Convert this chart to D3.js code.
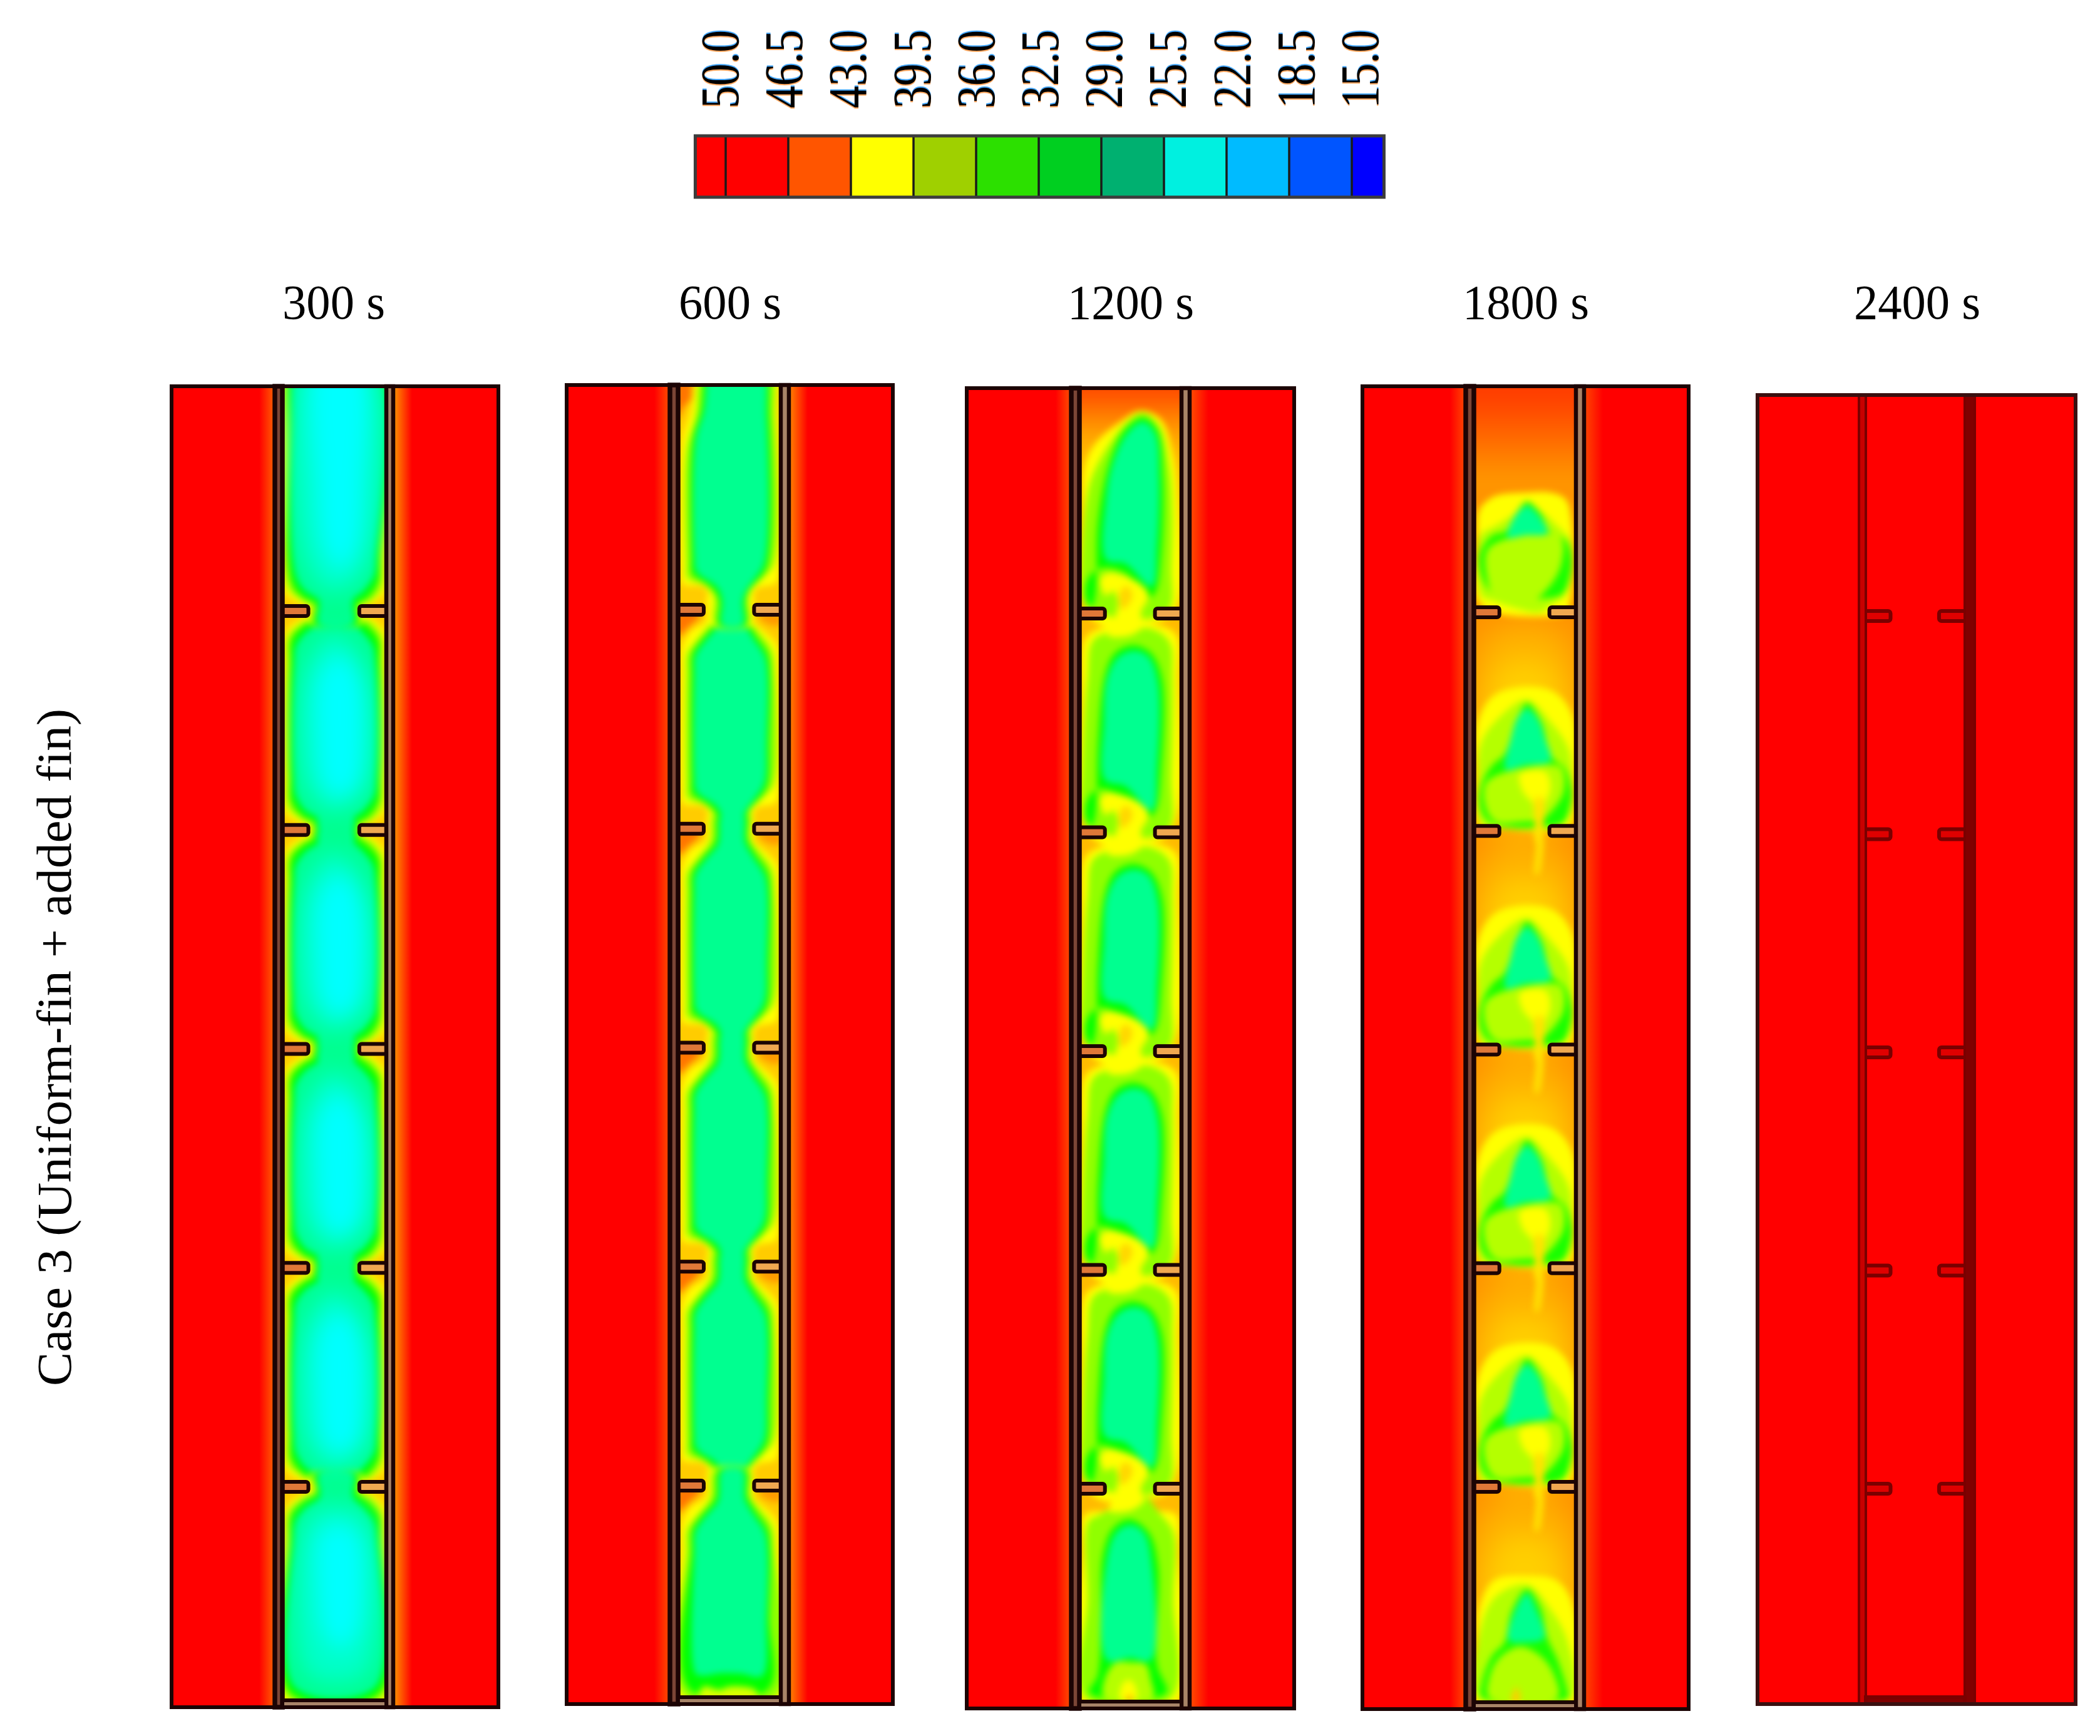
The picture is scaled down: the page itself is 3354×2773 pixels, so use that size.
<!DOCTYPE html>
<html>
<head>
<meta charset="utf-8">
<script src="https://cdn.jsdelivr.net/npm/d3@7"></script>
<style>
  html, body { margin: 0; padding: 0; background: #fff; }
  text { font-family: "Liberation Serif", serif; fill: #000; }
</style>
</head>
<body>
<svg id="chart" width="3354" height="2773"></svg>
<script>
// legend
var legendTicks = [50.0, 46.5, 43.0, 39.5, 36.0, 32.5, 29.0, 25.5, 22.0, 18.5, 15.0];
var legendEdges = [51.7].concat(legendTicks, [13.2]);
var legendColors = ["#ff0000", "#ff0000", "#ff5500", "#ffff00", "#9fd000", "#2ce000",
  "#00cf20", "#00b070", "#00f0e0", "#00bbff", "#0055ff", "#0000ff"];

var times = ["300 s", "600 s", "1200 s", "1800 s", "2400 s"];
var finStations = [1, 2, 3, 4, 5];
var caseLabel = "Case 3 (Uniform-fin + added fin)";

// temperature of the glow on the wall facing the channel [left zone, right zone]
var wallGlow = [[46.5, 45], [47, 45.5], [47, 47], [47.3, 47.3], [50, 50]];
var channelBase = [43.5, 43.5, 44, 45.2, 50];

// hot wash from the top of the channel: [temperature, v where it ends]
var topWash = [[], [], [[44.8, .24], [45.6, .16], [46.4, .1], [47.4, .04]], [[45, .46], [45.8, .36], [46.5, .25], [47.1, .15], [47.8, .07]], []];

// broad warm areas, heavily softened: [temperature, segments, outline as [u, v]]
var soft1800 = [
  [44.3, [1, 2, 3, 4, 5], [[12,.1],[88,.1],[88,.98],[12,.98]]],
  [43.4, [1, 2, 3, 4, 5], [[24,.25],[76,.25],[76,.85],[24,.85]]]
];
var softFields = [[], [], [], soft1800, []];

// melt fronts: [temperature, segments, outline as [u, v]]
// u = 0..100 across channel, v = 0..1 from one fin to the next
var field300 = [
  [42, [1, 2, 3, 4], [[27,-.06],[29,.01],[20,.03],[4,.09],[2,.25],[2,.75],[3,.92],[20,.975],[27,.99],[27,1.06],[76,1.06],[76,.99],[85,.97],[98,.92],[99,.75],[99,.25],[98,.09],[85,.03],[76,.01],[76,-.06]]],
  [39, [1, 2, 3, 4], [[29,-.06],[31,.02],[20,.05],[6,.11],[5,.25],[5,.75],[6,.9],[20,.955],[29,.98],[29,1.06],[74,1.06],[74,.98],[85,.955],[95,.9],[96,.75],[96,.25],[95,.11],[85,.05],[74,.02],[74,-.06]]],
  [36, [1, 2, 3, 4], [[31,-.06],[33,.03],[20,.07],[9,.13],[8,.25],[8,.75],[9,.87],[20,.94],[32,.97],[31,1.06],[72,1.06],[72,.97],[82,.94],[92,.87],[93,.75],[93,.25],[92,.13],[82,.07],[72,.03],[72,-.06]]],
  [33, [1, 2, 3, 4], [[35,-.06],[36,.05],[22,.1],[13,.16],[12,.25],[12,.75],[13,.84],[22,.91],[35,.95],[35,1.06],[68,1.06],[68,.95],[78,.91],[88,.84],[89,.75],[89,.25],[87,.16],[78,.1],[68,.05],[68,-.06]]],
  [42, [0], [[3,-.1],[99,-.1],[99,.75],[98,.92],[85,.97],[76,.99],[76,1.06],[27,1.06],[27,.99],[20,.975],[3,.92],[2,.75]]],
  [39, [0], [[8,-.1],[96,-.1],[96,.75],[95,.9],[85,.955],[74,.98],[74,1.06],[29,1.06],[29,.98],[20,.955],[6,.9],[6,.3]]],
  [36, [0], [[13,-.1],[93,-.1],[93,.75],[92,.87],[82,.94],[72,.97],[72,1.06],[31,1.06],[32,.97],[20,.94],[9,.87],[9,.2]]],
  [33, [0], [[17,-.1],[89,-.1],[89,.75],[88,.84],[78,.91],[68,.95],[68,1.06],[35,1.06],[35,.95],[22,.91],[13,.84],[12,.2]]],
  [42, [5], [[27,-.06],[29,.01],[20,.03],[4,.09],[2,.25],[2,.98],[98,.98],[99,.25],[98,.09],[85,.03],[76,.01],[76,-.06]]],
  [39, [5], [[29,-.06],[31,.02],[20,.05],[6,.11],[5,.25],[5,.955],[96,.955],[96,.25],[95,.11],[85,.05],[74,.02],[74,-.06]]],
  [36, [5], [[31,-.06],[33,.03],[20,.07],[9,.13],[8,.25],[8,.935],[93,.935],[93,.25],[92,.13],[82,.07],[72,.03],[72,-.06]]],
  [33, [5], [[35,-.06],[36,.05],[22,.1],[13,.16],[12,.25],[12,.91],[89,.91],[89,.25],[87,.16],[78,.1],[68,.05],[68,-.06]]],
  // cool core, softened more than the fronts
  [31, [1, 2, 3, 4], [[22,.25],[50,.1],[80,.25],[82,.8],[50,.92],[22,.8]]],
  [29, [1, 2, 3, 4], [[35,.3],[56,.2],[75,.32],[78,.6],[72,.8],[56,.85],[40,.8],[33,.6]]],
  [31, [0], [[22,-.1],[82,-.1],[82,.8],[50,.92],[22,.8]]],
  [29, [0], [[33,-.1],[76,-.1],[78,.45],[72,.72],[56,.82],[40,.72],[33,.45]]],
  [31, [5], [[22,.15],[50,.08],[82,.15],[82,.84],[50,.89],[22,.84]]],
  [29, [5], [[35,.22],[56,.16],[75,.24],[78,.45],[72,.66],[56,.74],[40,.66],[33,.45]]]
];

var field600 = [
  [46, [1, 2, 3, 4, 5], [[0,.0],[22,.02],[10,.08],[0,.12]]],
  [45, [1, 2, 3, 4, 5], [[78,.02],[100,.02],[100,.07],[85,.06]]],
  [42, [1, 2, 3, 4], [[30,-.07],[27,.05],[12,.1],[4,.17],[3,.3],[3,.82],[5,.885],[25,.9],[31,.95],[32,1.07],[72,1.07],[72,.95],[77,.905],[95,.88],[98,.8],[98,.3],[96,.16],[82,.09],[73,.05],[72,-.07]]],
  [39, [1, 2, 3, 4], [[35,-.07],[31,.06],[18,.14],[9,.2],[8,.3],[8,.8],[9,.86],[26,.89],[35,.94],[36,1.07],[68,1.07],[68,.94],[73,.895],[84,.85],[93,.8],[94,.3],[91,.18],[78,.1],[70,.05],[69,-.07]]],
  [36, [1, 2, 3, 4], [[40,-.07],[36,.06],[24,.13],[14,.2],[13,.3],[13,.76],[14,.84],[24,.875],[34,.91],[40,.96],[40,1.07],[66,1.07],[66,.96],[70,.91],[78,.87],[87,.8],[89,.6],[90,.3],[87,.2],[76,.12],[68,.05],[66,-.07]]],
  [33, [1, 2, 3, 4], [[43,-.07],[39,.07],[27,.14],[17,.21],[16,.3],[16,.76],[18,.83],[38,.9],[43,.96],[43,1.07],[63,1.07],[63,.96],[67,.91],[75,.86],[84,.79],[86,.6],[87,.3],[84,.21],[73,.13],[65,.06],[63,-.07]]],
  [46, [0], [[0,-.1],[25,-.1],[15,.05],[5,.1],[0,.15]]],
  [42, [0], [[22,-.1],[94,-.1],[97,.1],[98,.82],[95,.88],[77,.905],[72,.95],[72,1.07],[32,1.07],[31,.95],[25,.9],[5,.885],[3,.82],[4,.25],[12,.12]]],
  [39, [0], [[27,-.1],[88,-.1],[94,.15],[93,.8],[84,.85],[73,.895],[68,.94],[68,1.07],[36,1.07],[35,.94],[26,.89],[9,.86],[8,.8],[8,.3],[17,.14]]],
  [36, [0], [[32,-.1],[82,-.1],[89,.15],[87,.8],[78,.87],[70,.91],[66,.96],[66,1.07],[40,1.07],[40,.96],[34,.91],[24,.875],[14,.84],[13,.76],[14,.25],[22,.12]]],
  [33, [0], [[35,-.1],[80,-.1],[86,.15],[84,.79],[75,.86],[67,.91],[63,.96],[63,1.07],[43,1.07],[43,.96],[38,.9],[18,.83],[16,.76],[17,.25],[25,.12]]],
  [42, [5], [[30,-.07],[27,.05],[12,.1],[4,.17],[3,.3],[3,.98],[98,.98],[98,.3],[96,.16],[82,.09],[73,.05],[72,-.07]]],
  [39, [5], [[35,-.07],[31,.06],[18,.14],[9,.2],[8,.3],[6,.96],[96,.96],[94,.3],[91,.18],[78,.1],[70,.05],[69,-.07]]],
  [36, [5], [[40,-.07],[36,.06],[24,.13],[14,.2],[13,.3],[11,.93],[88,.93],[89,.6],[90,.3],[87,.2],[76,.12],[68,.05],[66,-.07]]],
  [33, [5], [[43,-.07],[39,.07],[27,.14],[17,.21],[16,.3],[17,.86],[25,.87],[40,.86],[60,.86],[82,.87],[86,.6],[87,.3],[84,.21],[73,.13],[65,.06],[63,-.07]]],
  [41, [5], [[20,.97],[25,.92],[40,.935],[50,.92],[62,.92],[75,.935],[78,.97]]]
];

var field1200 = [
  [42, [1, 2, 3, 4], [[8,.1],[25,.06],[75,.05],[95,.1],[97,.3],[97,.9],[85,1.02],[60,1.05],[20,1.05],[3,.95],[2,.4],[3,.15]]],
  [39, [1, 2, 3, 4], [[14,.12],[40,.08],[70,.07],[88,.13],[91,.3],[90,.75],[88,.98],[60,1.03],[20,1],[6,.97],[2,.88],[3,.7],[8,.3]]],
  [36, [1, 2, 3, 4], [[53,.145],[70,.18],[81,.3],[80,.72],[75,.9],[68,.93],[45,.85],[20,.8],[8,.85],[6,.93],[12,.97],[16,.9],[18,.6],[25,.28],[35,.18]]],
  [33, [1, 2, 3, 4], [[54,.17],[68,.2],[77,.32],[76,.7],[71,.9],[45,.79],[25,.76],[24,.5],[27,.3],[38,.2]]],
  [42, [0], [[5,.35],[15,.25],[40,.15],[60,.1],[80,.14],[92,.3],[97,.5],[97,.95],[85,1.02],[60,1.05],[20,1.05],[3,.95],[3,.55]]],
  [39, [0], [[12,.4],[25,.28],[45,.16],[62,.11],[78,.17],[88,.35],[91,.55],[90,.8],[88,.98],[60,1.03],[20,1],[6,.97],[2,.88],[3,.7],[7,.5]]],
  [36, [0], [[30,.32],[45,.18],[62,.13],[76,.18],[82,.4],[80,.75],[75,.9],[68,.93],[45,.82],[20,.8],[8,.85],[6,.93],[12,.97],[16,.9],[18,.6]]],
  [33, [0], [[33,.33],[47,.2],[62,.15],[74,.2],[78,.4],[76,.7],[71,.88],[45,.78],[26,.76],[26,.5]]],
  [42, [5], [[5,.12],[25,.1],[75,.1],[95,.12],[97,.3],[96,.97],[3,.97],[3,.3]]],
  [39, [5], [[9,.15],[20,.12],[45,.05],[60,.02],[80,.12],[92,.2],[92,.5],[90,.95],[6,.95],[8,.5]]],
  [36, [5], [[50,.14],[68,.2],[77,.35],[76,.8],[85,.93],[10,.93],[18,.85],[21,.6],[23,.3],[33,.18]]],
  [33, [5], [[50,.165],[63,.2],[71,.35],[70,.78],[50,.77],[27,.78],[26,.35],[36,.2]]],
  [40, [5], [[24,.95],[26,.85],[36,.79],[50,.79],[65,.8],[70,.87],[72,.95]]],
  [42, [5], [[40,.96],[42,.89],[48,.87],[54,.89],[56,.96]]],
  [44.5, [5], [[46,.97],[48,.94],[50,.94],[52,.97]]],
  // S shaped swirl past each pair of fins
  [42, [0, 1, 2, 3, 4], [[20,.85],[28,.82],[42,.83],[60,.87],[68,.92],[60,1],[64,1.05],[50,1.1],[28,1.1],[33,1.05],[36,1],[38,.95],[33,.9],[26,.92]]],
  [43.2, [0, 1, 2, 3, 4], [[40,.9],[47,.88],[52,.92],[46,.97],[41,.98]]]
];

var field1800 = [
  [42, [1, 2, 3, 4], [[4,.5],[20,.38],[52,.34],[80,.37],[97,.48],[98,.8],[94,.98],[60,1],[30,.99],[6,.98],[3,.75]]],
  [40, [1, 2, 3, 4], [[7,.6],[25,.48],[52,.4],[75,.5],[93,.63],[95,.8],[88,.97],[60,.99],[35,.99],[8,.97],[5,.8]]],
  [36.5, [1, 2, 3, 4], [[52,.415],[66,.5],[76,.66],[90,.72],[96,.82],[92,.93],[84,.97],[20,.97],[8,.92],[5,.82],[18,.7],[30,.65],[42,.5]]],
  [40, [1, 2, 3, 4], [[12,.78],[50,.71],[85,.71],[88,.82],[72,.93],[65,.95],[45,.96],[22,.96],[12,.9]]],
  [33, [1, 2, 3, 4], [[52,.44],[63,.49],[70,.58],[75,.68],[50,.7],[31,.72],[36,.58],[43,.48]]],
  [42, [0], [[5,.55],[15,.5],[25,.48],[50,.47],[75,.47],[90,.5],[96,.6],[97,.85],[90,1],[70,1.02],[20,1],[4,.95],[3,.7]]],
  [40, [0], [[4,.78],[6,.66],[20,.62],[38,.57],[52,.52],[68,.56],[82,.62],[94,.68],[95,.82],[88,.93],[78,.96],[65,1],[40,.98],[20,.95],[8,.93]]],
  [36.5, [0], [[52,.51],[65,.56],[75,.65],[90,.68],[96,.78],[90,.9],[82,.93],[20,.92],[8,.85],[5,.75],[18,.66],[32,.64],[42,.56]]],
  [40, [0], [[14,.72],[50,.66],[85,.67],[86,.78],[75,.88],[50,.97],[20,.93],[13,.85]]],
  [33, [0], [[52,.53],[63,.57],[72,.65],[50,.66],[33,.67],[41,.57]]],
  [42, [5], [[5,.55],[20,.42],[52,.4],[80,.42],[96,.52],[98,.97],[3,.97],[3,.7]]],
  [40, [5], [[4,.7],[20,.5],[52,.44],[75,.55],[92,.7],[95,.95],[5,.95]]],
  [36.5, [5], [[52,.46],[65,.54],[72,.68],[82,.78],[92,.93],[92,.95],[8,.95],[8,.88],[18,.76],[30,.7],[37,.56]]],
  [33, [5], [[52,.48],[61,.55],[69,.68],[50,.7],[34,.69],[40,.56]]],
  [40, [5], [[25,.77],[45,.72],[65,.76],[78,.84],[82,.95],[15,.95],[15,.86]]],
  [43.5, [5], [[37,.97],[40,.91],[42,.9],[45,.97]]],
  // warm tail running through the fin gap
  [42, [1, 2, 3, 4], [[45,.74],[70,.73],[75,.8],[68,.9],[60,1.05],[58,.88],[48,.82]]],
  [42.8, [1, 2, 3, 4], [[60,.85],[68,.85],[68,1],[68,1.08],[63,1.2],[60,1.2],[61,1.05]]]
];

var field2400 = [];
var fields = [field300, field600, field1200, field1800, field2400];

// layout of the five frames in page pixels
var frames = [
  { left: 274,  right: 796,  top: 617, bottom: 2727, fin1: 976, fin5: 2375, wallL: [439, 451],   wallR: [617, 628] },
  { left: 905,  right: 1426, top: 615, bottom: 2722, fin1: 974, fin5: 2373, wallL: [1070, 1083], wallR: [1247, 1260] },
  { left: 1544, right: 2067, top: 620, bottom: 2729, fin1: 980, fin5: 2378, wallL: [1711, 1724], wallR: [1887, 1900] },
  { left: 2176, right: 2697, top: 617, bottom: 2730, fin1: 978, fin5: 2375, wallL: [2341, 2354], wallR: [2517, 2530] },
  { left: 2807, right: 3315, top: 631, bottom: 2722, fin1: 984, fin5: 2378, wallL: [2969, 2980], wallR: [3138, 3154] }
];
var titleCenters = [533, 1166, 1806, 2437, 3062];
var finTip = [25, 74];

var tempColor = d3.scaleLinear()
  .domain([50, 47, 45, 43, 42, 39, 36, 33, 29])
  .range(["#ff0000", "#ff5000", "#ff9900", "#ffdd00", "#ffff00", "#90ff00", "#00ff00", "#00ff90", "#00ffff"]);

var svg = d3.select("#chart");
var defs = svg.append("defs");

function addBlur(id, amount) {
  defs.append("filter").attr("id", id)
    .attr("filterUnits", "userSpaceOnUse")
    .attr("color-interpolation-filters", "sRGB")
    .attr("x", 0).attr("y", 0).attr("width", 3354).attr("height", 2773)
    .append("feGaussianBlur").attr("stdDeviation", amount);
}
addBlur("melt", 5.5);
addBlur("core", 17);
addBlur("wash", 22);

drawLegend();
drawTitles();
frames.forEach(drawPanel);

function drawLegend() {
  var x = d3.scaleLinear().domain([50, 15]).range([1159, 2159]);
  var labelX = d3.scaleLinear().domain([50, 15]).range([1150, 2172]);
  var barTop = 217, barBottom = 315;
  var g = svg.append("g");

  g.selectAll("rect.cell")
    .data(legendColors)
    .enter().append("rect")
    .attr("class", "cell")
    .attr("x", (d, i) => x(legendEdges[i]))
    .attr("y", barTop)
    .attr("width", (d, i) => x(legendEdges[i + 1]) - x(legendEdges[i]))
    .attr("height", barBottom - barTop)
    .attr("fill", d => d);

  g.selectAll("line.divider")
    .data(legendTicks)
    .enter().append("line")
    .attr("class", "divider")
    .attr("x1", d => x(d)).attr("x2", d => x(d))
    .attr("y1", barTop).attr("y2", barBottom)
    .attr("stroke", "#1a1a1a").attr("stroke-width", 3.5);

  g.append("rect")
    .attr("x", x(legendEdges[0]))
    .attr("y", barTop)
    .attr("width", x(legendEdges[12]) - x(legendEdges[0]))
    .attr("height", barBottom - barTop)
    .attr("fill", "none")
    .attr("stroke", "#3c3c3c").attr("stroke-width", 5);

  // rotated labels with the colour fringes of the original raster
  [["#45a8ff", -2], ["#ffa860", 2], ["#000", 0]].forEach(function (layer) {
    g.selectAll("text.t" + layer[1])
      .data(legendTicks)
      .enter().append("text")
      .attr("class", "t" + layer[1])
      .attr("transform", d => "translate(" + (labelX(d) + 29) + "," + (173 + layer[1]) + ") rotate(-90)")
      .attr("font-size", 86)
      .attr("textLength", 125)
      .attr("lengthAdjust", "spacingAndGlyphs")
      .style("fill", layer[0])
      .text(d => d.toFixed(1));
  });
}

function drawTitles() {
  svg.selectAll("text.time")
    .data(times)
    .enter().append("text")
    .attr("class", "time")
    .attr("x", (d, i) => titleCenters[i])
    .attr("y", 509)
    .attr("text-anchor", "middle")
    .attr("font-size", 79)
    .text(d => d)
    .each(function () {
      d3.select(this)
        .attr("textLength", this.getComputedTextLength() * 0.97)
        .attr("lengthAdjust", "spacingAndGlyphs");
    });

  svg.append("text")
    .attr("transform", "translate(113,2214) rotate(-90)")
    .attr("font-size", 78)
    .attr("textLength", 1082)
    .attr("lengthAdjust", "spacingAndGlyphs")
    .text(caseLabel);
}

function drawPanel(f, i) {
  var done = i == 4;
  var edge = done ? "#7a0000" : "#1c0404";
  var g = svg.append("g");

  var x = d3.scaleLinear().domain([0, 100]).range([f.wallL[1], f.wallR[0]]);
  var y = d3.scaleLinear().domain([0, 1, 5, 6]).range([f.top, f.fin1, f.fin5, f.bottom]);
  var innerBottom = f.bottom - 11;

  g.append("rect")
    .attr("x", f.left).attr("y", f.top)
    .attr("width", f.right - f.left).attr("height", f.bottom - f.top)
    .attr("fill", "#ff0000");

  // warm-up next to the walls on the outer zones
  var glowL = defs.append("linearGradient").attr("id", "glowL" + i)
    .attr("gradientUnits", "userSpaceOnUse")
    .attr("x1", f.wallL[0] - 25).attr("x2", f.wallL[0]).attr("y1", 0).attr("y2", 0);
  glowL.append("stop").attr("offset", 0).attr("stop-color", "#ff0000");
  glowL.append("stop").attr("offset", 1).attr("stop-color", tempColor(wallGlow[i][0]));
  var glowR = defs.append("linearGradient").attr("id", "glowR" + i)
    .attr("gradientUnits", "userSpaceOnUse")
    .attr("x1", f.wallR[1]).attr("x2", f.wallR[1] + 30).attr("y1", 0).attr("y2", 0);
  glowR.append("stop").attr("offset", 0).attr("stop-color", tempColor(wallGlow[i][1]));
  glowR.append("stop").attr("offset", 1).attr("stop-color", "#ff0000");

  g.append("rect")
    .attr("x", f.wallL[0] - 25).attr("y", f.top)
    .attr("width", 25).attr("height", f.bottom - f.top)
    .attr("fill", "url(#glowL" + i + ")");
  g.append("rect")
    .attr("x", f.wallR[1]).attr("y", f.top)
    .attr("width", 30).attr("height", f.bottom - f.top)
    .attr("fill", "url(#glowR" + i + ")");

  // channel field, clipped to the channel and softened by a blur
  defs.append("clipPath").attr("id", "channel" + i)
    .append("rect")
    .attr("x", f.wallL[1]).attr("y", f.top)
    .attr("width", f.wallR[0] - f.wallL[1]).attr("height", innerBottom - f.top);

  var clipped = g.append("g").attr("clip-path", "url(#channel" + i + ")");

  var wash = clipped.append("g").attr("filter", done ? null : "url(#wash)");
  wash.append("rect")
    .attr("x", f.wallL[1] - 80).attr("y", f.top - 80)
    .attr("width", f.wallR[0] - f.wallL[1] + 160).attr("height", innerBottom - f.top + 160)
    .attr("fill", tempColor(channelBase[i]));
  topWash[i].forEach(function (d) {
    wash.append("rect")
      .attr("x", f.wallL[1] - 80).attr("y", f.top - 80)
      .attr("width", f.wallR[0] - f.wallL[1] + 160).attr("height", y(d[1]) - f.top + 80)
      .attr("fill", tempColor(d[0]));
  });

  function drawShape(parent, shape) {
    shape[1].forEach(function (seg) {
      var line = d3.line()
        .x(d => x(d[0]))
        .y(d => y(seg + d[1]))
        .curve(d3.curveCatmullRomClosed.alpha(0.5));
      parent.append("path")
        .attr("d", line(shape[2]))
        .attr("fill", tempColor(shape[0]));
    });
  }

  softFields[i].forEach(function (shape) { drawShape(wash, shape); });

  var field = clipped.append("g").attr("filter", done ? null : "url(#melt)");
  var core = clipped.append("g").attr("filter", done ? null : "url(#core)");
  fields[i].forEach(function (shape) {
    drawShape(shape[0] <= 31 ? core : field, shape);
  });

  // fins
  [[0, finTip[0]], [finTip[1], 100]].forEach(function (span, side) {
    g.selectAll("rect.fin" + side)
      .data(finStations)
      .enter().append("rect")
      .attr("class", "fin" + side)
      .attr("x", x(span[0]) - (side == 0 ? 4 : 0))
      .attr("y", d => y(d) - 8)
      .attr("width", x(span[1]) - x(span[0]) + 4)
      .attr("height", 16)
      .attr("rx", 4)
      .attr("fill", done ? "#e00000" : (side == 0 ? "#e07838" : "#f0a850"))
      .attr("stroke", edge).attr("stroke-width", 6);
  });

  // walls
  var wallFillL = done ? "#c80000" : "#7c4636";
  var wallFillR = done ? "#800000" : "#a88468";
  [[f.wallL, wallFillL, 7.5], [f.wallR, wallFillR, 6.5]].forEach(function (w) {
    g.append("rect")
      .attr("x", w[0][0]).attr("y", f.top)
      .attr("width", w[0][1] - w[0][0]).attr("height", f.bottom - f.top)
      .attr("fill", w[1])
      .attr("stroke", edge).attr("stroke-width", done ? 4 : w[2]);
  });

  // bottom wall
  g.append("rect")
    .attr("x", f.wallL[1]).attr("y", innerBottom)
    .attr("width", f.wallR[0] - f.wallL[1]).attr("height", f.bottom - innerBottom)
    .attr("fill", done ? "#800000" : wallFillR)
    .attr("stroke", edge).attr("stroke-width", 6);

  // frame
  g.append("rect")
    .attr("x", f.left).attr("y", f.top)
    .attr("width", f.right - f.left).attr("height", f.bottom - f.top)
    .attr("fill", "none")
    .attr("stroke", done ? "#3a1010" : edge).attr("stroke-width", 6);
}
</script>
</body>
</html>
